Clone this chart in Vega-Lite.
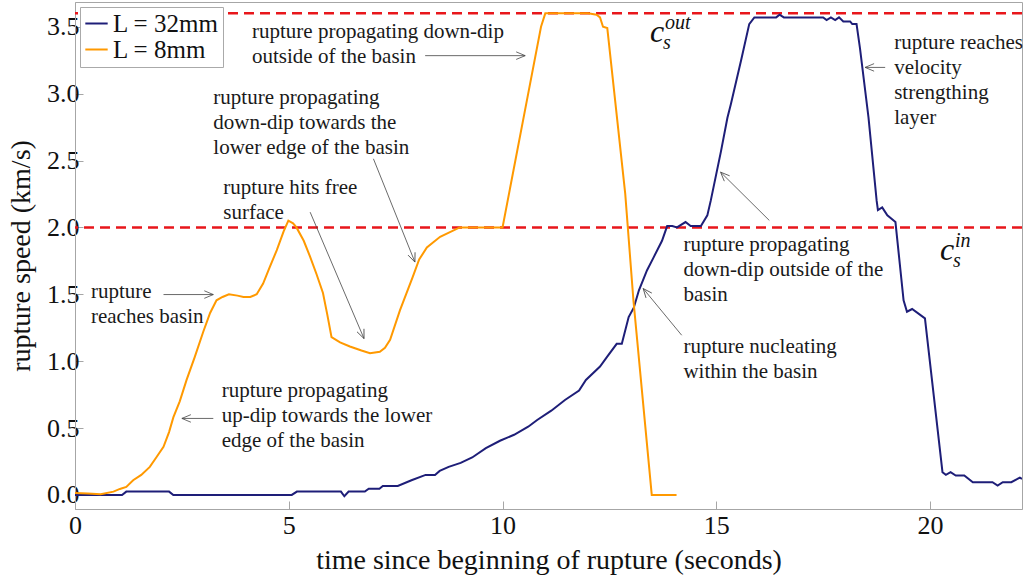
{
  "$schema": "https://vega.github.io/schema/vega-lite/v6.json",
  "width": 947,
  "height": 507,
  "autosize": {"type": "none"},
  "padding": {"left": 75, "top": 2, "right": 6, "bottom": 76},
  "background": "white",
  "config": {
    "font": "Liberation Serif",
    "view": {"stroke": "#a6a6a6", "strokeWidth": 1},
    "axis": {
      "grid": false,
      "domainColor": "#a6a6a6",
      "tickColor": "#a6a6a6",
      "tickSize": -8,
      "labelFlush": false,
      "labelFont": "Liberation Serif",
      "labelFontSize": 26,
      "labelColor": "#111",
      "titleFont": "Liberation Serif",
      "titleFontSize": 28,
      "titleFontWeight": "normal",
      "titleColor": "#111"
    },
    "legend": {
      "orient": "top-left",
      "offset": 5,
      "fillColor": "white",
      "strokeColor": "#aaaaaa",
      "padding": 4,
      "labelFont": "Liberation Serif",
      "labelFontSize": 25,
      "labelColor": "#111",
      "symbolType": "stroke",
      "symbolSize": 500,
      "symbolStrokeWidth": 2,
      "rowPadding": 0,
      "labelOffset": 4
    }
  },
  "datasets": {
    "speed": [
      {"case": "L = 32mm", "t": 0, "v": 0},
      {"case": "L = 32mm", "t": 1.1, "v": 0},
      {"case": "L = 32mm", "t": 1.2, "v": 0.025},
      {"case": "L = 32mm", "t": 2.2, "v": 0.025},
      {"case": "L = 32mm", "t": 2.3, "v": 0},
      {"case": "L = 32mm", "t": 5.07, "v": 0},
      {"case": "L = 32mm", "t": 5.19, "v": 0.025},
      {"case": "L = 32mm", "t": 6.22, "v": 0.025},
      {"case": "L = 32mm", "t": 6.3, "v": -0.01},
      {"case": "L = 32mm", "t": 6.4, "v": 0.025},
      {"case": "L = 32mm", "t": 6.78, "v": 0.025},
      {"case": "L = 32mm", "t": 6.87, "v": 0.047},
      {"case": "L = 32mm", "t": 7.12, "v": 0.047},
      {"case": "L = 32mm", "t": 7.2, "v": 0.067},
      {"case": "L = 32mm", "t": 7.55, "v": 0.067},
      {"case": "L = 32mm", "t": 7.87, "v": 0.11},
      {"case": "L = 32mm", "t": 8.2, "v": 0.15},
      {"case": "L = 32mm", "t": 8.42, "v": 0.15},
      {"case": "L = 32mm", "t": 8.53, "v": 0.18},
      {"case": "L = 32mm", "t": 8.74, "v": 0.21},
      {"case": "L = 32mm", "t": 9.02, "v": 0.24},
      {"case": "L = 32mm", "t": 9.29, "v": 0.28},
      {"case": "L = 32mm", "t": 9.61, "v": 0.35},
      {"case": "L = 32mm", "t": 9.94, "v": 0.405},
      {"case": "L = 32mm", "t": 10.27, "v": 0.45},
      {"case": "L = 32mm", "t": 10.6, "v": 0.51},
      {"case": "L = 32mm", "t": 10.81, "v": 0.56},
      {"case": "L = 32mm", "t": 11.14, "v": 0.63},
      {"case": "L = 32mm", "t": 11.46, "v": 0.71},
      {"case": "L = 32mm", "t": 11.79, "v": 0.78},
      {"case": "L = 32mm", "t": 11.95, "v": 0.86},
      {"case": "L = 32mm", "t": 12.28, "v": 0.96},
      {"case": "L = 32mm", "t": 12.44, "v": 1.03},
      {"case": "L = 32mm", "t": 12.67, "v": 1.13},
      {"case": "L = 32mm", "t": 12.79, "v": 1.13},
      {"case": "L = 32mm", "t": 12.95, "v": 1.33},
      {"case": "L = 32mm", "t": 13.07, "v": 1.4},
      {"case": "L = 32mm", "t": 13.19, "v": 1.53},
      {"case": "L = 32mm", "t": 13.38, "v": 1.68},
      {"case": "L = 32mm", "t": 13.54, "v": 1.78},
      {"case": "L = 32mm", "t": 13.73, "v": 1.9},
      {"case": "L = 32mm", "t": 13.85, "v": 2.01},
      {"case": "L = 32mm", "t": 13.97, "v": 2.01},
      {"case": "L = 32mm", "t": 14.08, "v": 2.0},
      {"case": "L = 32mm", "t": 14.28, "v": 2.04},
      {"case": "L = 32mm", "t": 14.4, "v": 2.01},
      {"case": "L = 32mm", "t": 14.64, "v": 2.01},
      {"case": "L = 32mm", "t": 14.79, "v": 2.09},
      {"case": "L = 32mm", "t": 14.87, "v": 2.2},
      {"case": "L = 32mm", "t": 15.11, "v": 2.57},
      {"case": "L = 32mm", "t": 15.26, "v": 2.82},
      {"case": "L = 32mm", "t": 15.34, "v": 2.92},
      {"case": "L = 32mm", "t": 15.58, "v": 3.25},
      {"case": "L = 32mm", "t": 15.77, "v": 3.52},
      {"case": "L = 32mm", "t": 15.89, "v": 3.57},
      {"case": "L = 32mm", "t": 16.4, "v": 3.57},
      {"case": "L = 32mm", "t": 16.48, "v": 3.59},
      {"case": "L = 32mm", "t": 16.58, "v": 3.57},
      {"case": "L = 32mm", "t": 17.5, "v": 3.57},
      {"case": "L = 32mm", "t": 17.58, "v": 3.55},
      {"case": "L = 32mm", "t": 17.68, "v": 3.57},
      {"case": "L = 32mm", "t": 17.78, "v": 3.55},
      {"case": "L = 32mm", "t": 17.87, "v": 3.57},
      {"case": "L = 32mm", "t": 17.97, "v": 3.54},
      {"case": "L = 32mm", "t": 18.13, "v": 3.54},
      {"case": "L = 32mm", "t": 18.18, "v": 3.52},
      {"case": "L = 32mm", "t": 18.28, "v": 3.52},
      {"case": "L = 32mm", "t": 18.36, "v": 3.34},
      {"case": "L = 32mm", "t": 18.56, "v": 2.82},
      {"case": "L = 32mm", "t": 18.75, "v": 2.2},
      {"case": "L = 32mm", "t": 18.78, "v": 2.13},
      {"case": "L = 32mm", "t": 18.88, "v": 2.15},
      {"case": "L = 32mm", "t": 19.0, "v": 2.09},
      {"case": "L = 32mm", "t": 19.19, "v": 2.04},
      {"case": "L = 32mm", "t": 19.38, "v": 1.455},
      {"case": "L = 32mm", "t": 19.46, "v": 1.37},
      {"case": "L = 32mm", "t": 19.58, "v": 1.39},
      {"case": "L = 32mm", "t": 19.88, "v": 1.32},
      {"case": "L = 32mm", "t": 20.29, "v": 0.17},
      {"case": "L = 32mm", "t": 20.37, "v": 0.15},
      {"case": "L = 32mm", "t": 20.48, "v": 0.17},
      {"case": "L = 32mm", "t": 20.6, "v": 0.145},
      {"case": "L = 32mm", "t": 20.8, "v": 0.145},
      {"case": "L = 32mm", "t": 21.0, "v": 0.095},
      {"case": "L = 32mm", "t": 21.46, "v": 0.095},
      {"case": "L = 32mm", "t": 21.58, "v": 0.07},
      {"case": "L = 32mm", "t": 21.7, "v": 0.095},
      {"case": "L = 32mm", "t": 21.9, "v": 0.095},
      {"case": "L = 32mm", "t": 22.1, "v": 0.13},
      {"case": "L = 32mm", "t": 22.15, "v": 0.12},
      {"case": "L = 8mm", "t": 0, "v": 0.015},
      {"case": "L = 8mm", "t": 0.3, "v": 0.01},
      {"case": "L = 8mm", "t": 0.6, "v": 0.005},
      {"case": "L = 8mm", "t": 0.9, "v": 0.025},
      {"case": "L = 8mm", "t": 1.05, "v": 0.045},
      {"case": "L = 8mm", "t": 1.2, "v": 0.06},
      {"case": "L = 8mm", "t": 1.36, "v": 0.11},
      {"case": "L = 8mm", "t": 1.55, "v": 0.15},
      {"case": "L = 8mm", "t": 1.75, "v": 0.21},
      {"case": "L = 8mm", "t": 1.9, "v": 0.28},
      {"case": "L = 8mm", "t": 2.07, "v": 0.36},
      {"case": "L = 8mm", "t": 2.2, "v": 0.47},
      {"case": "L = 8mm", "t": 2.3, "v": 0.58},
      {"case": "L = 8mm", "t": 2.45, "v": 0.7},
      {"case": "L = 8mm", "t": 2.61, "v": 0.86},
      {"case": "L = 8mm", "t": 2.8, "v": 1.03},
      {"case": "L = 8mm", "t": 3.0, "v": 1.22},
      {"case": "L = 8mm", "t": 3.16, "v": 1.36},
      {"case": "L = 8mm", "t": 3.31, "v": 1.455},
      {"case": "L = 8mm", "t": 3.45, "v": 1.48},
      {"case": "L = 8mm", "t": 3.6, "v": 1.5},
      {"case": "L = 8mm", "t": 3.8, "v": 1.49},
      {"case": "L = 8mm", "t": 3.94, "v": 1.48},
      {"case": "L = 8mm", "t": 4.1, "v": 1.48},
      {"case": "L = 8mm", "t": 4.25, "v": 1.5},
      {"case": "L = 8mm", "t": 4.4, "v": 1.58},
      {"case": "L = 8mm", "t": 4.55, "v": 1.7},
      {"case": "L = 8mm", "t": 4.72, "v": 1.83},
      {"case": "L = 8mm", "t": 4.88, "v": 1.97},
      {"case": "L = 8mm", "t": 4.99, "v": 2.05},
      {"case": "L = 8mm", "t": 5.1, "v": 2.03},
      {"case": "L = 8mm", "t": 5.18, "v": 2.0},
      {"case": "L = 8mm", "t": 5.35, "v": 1.9},
      {"case": "L = 8mm", "t": 5.5, "v": 1.78},
      {"case": "L = 8mm", "t": 5.65, "v": 1.65},
      {"case": "L = 8mm", "t": 5.8, "v": 1.51},
      {"case": "L = 8mm", "t": 5.9, "v": 1.35},
      {"case": "L = 8mm", "t": 6.0, "v": 1.18},
      {"case": "L = 8mm", "t": 6.2, "v": 1.14},
      {"case": "L = 8mm", "t": 6.43, "v": 1.11},
      {"case": "L = 8mm", "t": 6.7, "v": 1.08},
      {"case": "L = 8mm", "t": 6.9, "v": 1.06},
      {"case": "L = 8mm", "t": 7.13, "v": 1.07},
      {"case": "L = 8mm", "t": 7.25, "v": 1.1},
      {"case": "L = 8mm", "t": 7.37, "v": 1.16},
      {"case": "L = 8mm", "t": 7.6, "v": 1.38},
      {"case": "L = 8mm", "t": 7.9, "v": 1.63},
      {"case": "L = 8mm", "t": 8.05, "v": 1.76},
      {"case": "L = 8mm", "t": 8.23, "v": 1.85},
      {"case": "L = 8mm", "t": 8.54, "v": 1.93},
      {"case": "L = 8mm", "t": 8.77, "v": 1.965},
      {"case": "L = 8mm", "t": 9.0, "v": 2.0},
      {"case": "L = 8mm", "t": 9.5, "v": 2.0},
      {"case": "L = 8mm", "t": 10.0, "v": 2.0},
      {"case": "L = 8mm", "t": 10.3, "v": 2.5},
      {"case": "L = 8mm", "t": 10.6, "v": 3.0},
      {"case": "L = 8mm", "t": 10.9, "v": 3.5},
      {"case": "L = 8mm", "t": 11.0, "v": 3.6},
      {"case": "L = 8mm", "t": 11.5, "v": 3.6},
      {"case": "L = 8mm", "t": 12.0, "v": 3.6},
      {"case": "L = 8mm", "t": 12.2, "v": 3.59},
      {"case": "L = 8mm", "t": 12.28, "v": 3.57},
      {"case": "L = 8mm", "t": 12.35, "v": 3.5},
      {"case": "L = 8mm", "t": 12.45, "v": 3.49},
      {"case": "L = 8mm", "t": 12.87, "v": 2.25},
      {"case": "L = 8mm", "t": 13.06, "v": 1.46},
      {"case": "L = 8mm", "t": 13.49, "v": 0.0},
      {"case": "L = 8mm", "t": 14.07, "v": 0.0}
    ],
    "levels": [
      {"level": "out", "v": 3.6},
      {"level": "in", "v": 2.0}
    ],
    "levelLabels": [
      {"t": 13.45, "v": 3.386, "sup": "out"},
      {"t": 20.23, "v": 1.756, "sup": "in"}
    ],
    "arrows": [
      {"t": 8.19, "v": 3.284, "t2": 10.53, "v2": 3.284},
      {"t": 6.98, "v": 2.513, "t2": 7.95, "v2": 1.741},
      {"t": 5.5, "v": 2.114, "t2": 6.76, "v2": 1.169},
      {"t": 2.07, "v": 1.498, "t2": 3.235, "v2": 1.498},
      {"t": 3.235, "v": 0.572, "t2": 2.5, "v2": 0.572},
      {"t": 18.95, "v": 3.196, "t2": 18.48, "v2": 3.196},
      {"t": 16.24, "v": 2.052, "t2": 15.1, "v2": 2.413},
      {"t": 14.19, "v": 1.194, "t2": 13.29, "v2": 1.543}
    ],
    "notes": [
      {"t": 4.14, "v": 3.463, "note": "rupture propagating down-dip\noutside of the basin"},
      {"t": 3.235, "v": 2.965, "note": "rupture propagating\ndown-dip towards the\nlower edge of the basin"},
      {"t": 3.469, "v": 2.292, "note": "rupture hits free\nsurface"},
      {"t": 0.374, "v": 1.515, "note": "rupture\nreaches basin"},
      {"t": 3.432, "v": 0.78, "note": "rupture propagating\nup-dip towards the lower\nedge of the basin"},
      {"t": 19.16, "v": 3.38, "note": "rupture reaches\nvelocity\nstrengthing\nlayer"},
      {"t": 14.23, "v": 1.869, "note": "rupture propagating\ndown-dip outside of the\nbasin"},
      {"t": 14.23, "v": 1.108, "note": "rupture nucleating\nwithin the basin"}
    ]
  },
  "encoding": {
    "x": {
      "field": "t",
      "type": "quantitative",
      "scale": {"domain": [0, 22.15], "nice": false, "zero": false},
      "axis": {
        "values": [0, 5, 10, 15, 20],
        "format": "d",
        "labelPadding": 11,
        "titlePadding": 8,
        "title": "time since beginning of rupture (seconds)"
      }
    },
    "y": {
      "field": "v",
      "type": "quantitative",
      "scale": {"domain": [-0.105, 3.685], "nice": false, "zero": false},
      "axis": {
        "values": [0, 0.5, 1, 1.5, 2, 2.5, 3, 3.5],
        "format": ".1f",
        "labelPadding": 4,
        "titlePadding": 11,
        "title": "rupture speed (km/s)"
      }
    }
  },
  "layer": [
    {
      "data": {"name": "levels"},
      "mark": {"type": "rule", "color": "#e8161b", "strokeWidth": 2.5, "strokeDash": [10, 6]},
      "encoding": {"x": null, "y": {"field": "v", "type": "quantitative"}}
    },
    {
      "data": {"name": "speed"},
      "mark": {"type": "line", "strokeWidth": 2, "clip": true},
      "encoding": {
        "color": {
          "field": "case",
          "type": "nominal",
          "scale": {"domain": ["L = 32mm", "L = 8mm"], "range": ["#1e1e78", "#ff9900"]},
          "legend": {"title": null}
        }
      }
    },
    {
      "data": {"name": "arrows"},
      "mark": {"type": "rule", "color": "#444444", "strokeWidth": 0.8},
      "encoding": {
        "x2": {"field": "t2"},
        "y2": {"field": "v2"}
      }
    },
    {
      "data": {"name": "arrows"},
      "transform": [
        {"calculate": "atan2(-(datum.v2 - datum.v) * 133.8, (datum.t2 - datum.t) * 42.75) * 180 / PI", "as": "heading"}
      ],
      "mark": {
        "type": "point",
        "shape": "M-1,-0.42L0,0L-1,0.42",
        "filled": false,
        "stroke": "#444444",
        "strokeWidth": 0.8,
        "size": 324,
        "opacity": 1
      },
      "encoding": {
        "x": {"field": "t2", "type": "quantitative"},
        "y": {"field": "v2", "type": "quantitative"},
        "angle": {"field": "heading", "type": "quantitative", "scale": null}
      }
    },
    {
      "data": {"name": "notes"},
      "mark": {
        "type": "text",
        "align": "left",
        "baseline": "middle",
        "font": "Liberation Serif",
        "fontSize": 21,
        "lineHeight": 25,
        "lineBreak": "\n",
        "color": "#1a1a1a"
      },
      "encoding": {"text": {"field": "note"}}
    },
    {
      "data": {"name": "levelLabels"},
      "mark": {
        "type": "text",
        "align": "left",
        "baseline": "alphabetic",
        "font": "Liberation Serif",
        "fontStyle": "italic",
        "fontSize": 32,
        "color": "#111"
      },
      "encoding": {"text": {"value": "c"}}
    },
    {
      "data": {"name": "levelLabels"},
      "mark": {
        "type": "text",
        "align": "left",
        "baseline": "alphabetic",
        "font": "Liberation Serif",
        "fontStyle": "italic",
        "fontSize": 20,
        "dx": 15,
        "dy": -13,
        "color": "#111"
      },
      "encoding": {"text": {"field": "sup"}}
    },
    {
      "data": {"name": "levelLabels"},
      "mark": {
        "type": "text",
        "align": "left",
        "baseline": "alphabetic",
        "font": "Liberation Serif",
        "fontStyle": "italic",
        "fontSize": 20,
        "dx": 13,
        "dy": 7,
        "color": "#111"
      },
      "encoding": {"text": {"value": "s"}}
    }
  ]
}
